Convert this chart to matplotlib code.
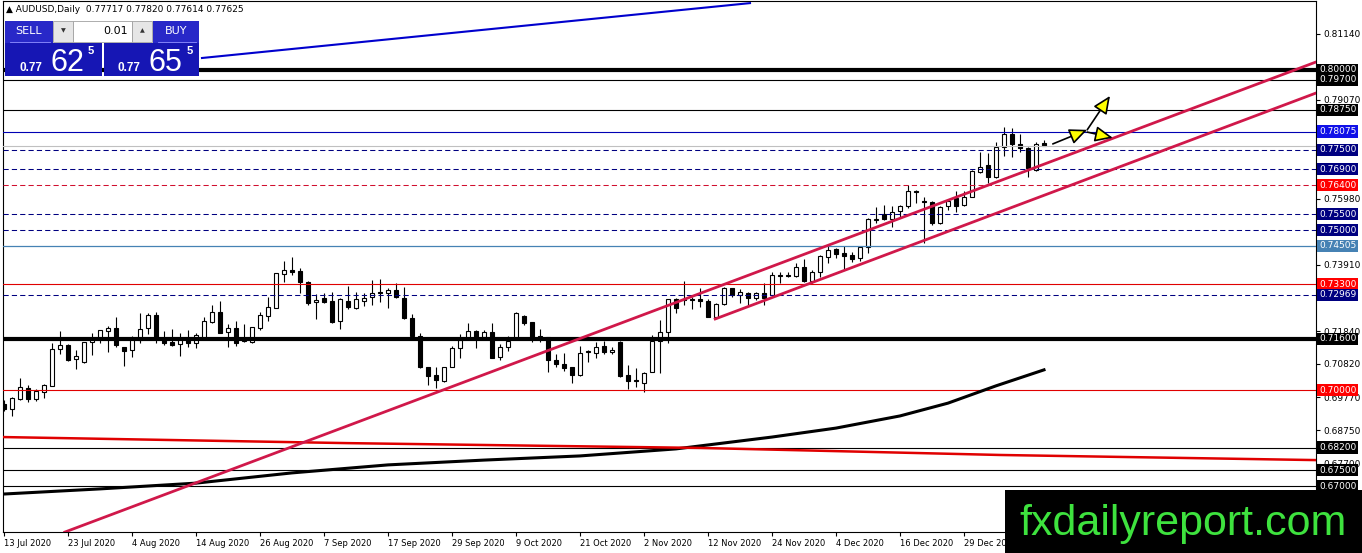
import numpy as np
import matplotlib.pyplot as plt
from matplotlib.patches import Rectangle
import matplotlib.transforms as mtransforms

# daily candles, 13 Jul 2020 .. 13 Jan 2021
opens = [0.6956, 0.6941, 0.6972, 0.7006, 0.6972, 0.6994, 0.7013, 0.7128, 0.7141, 0.7097,
         0.7088, 0.7150, 0.7163, 0.7184, 0.7194, 0.7134, 0.7125, 0.7156, 0.7194, 0.7234,
         0.7156, 0.7150, 0.7144, 0.7156, 0.7147, 0.7163, 0.7213, 0.7244, 0.7181, 0.7194,
         0.7153, 0.7150, 0.7194, 0.7231, 0.7256, 0.7363, 0.7375, 0.7372, 0.7338, 0.7275,
         0.7288, 0.7278, 0.7216, 0.7278, 0.7256, 0.7278, 0.7291, 0.7306, 0.7303, 0.7313,
         0.7288, 0.7225, 0.7169, 0.7072, 0.7047, 0.7028, 0.7072, 0.7131, 0.7163, 0.7184,
         0.7166, 0.7181, 0.7103, 0.7134, 0.7163, 0.7231, 0.7213, 0.7169, 0.7166, 0.7094,
         0.7081, 0.7072, 0.7047, 0.7119, 0.7116, 0.7138, 0.7119, 0.7150, 0.7047, 0.7031,
         0.7022, 0.7056, 0.7153, 0.7181, 0.7284, 0.7284, 0.7284, 0.7284, 0.7278, 0.7228,
         0.7269, 0.7319, 0.7297, 0.7303, 0.7288, 0.7303, 0.7297, 0.7359, 0.7359, 0.7356,
         0.7384, 0.7341, 0.7369, 0.7416, 0.7441, 0.7428, 0.7422, 0.7413, 0.7447, 0.7531,
         0.7550, 0.7534, 0.7559, 0.7575, 0.7622, 0.7591, 0.7588, 0.7522, 0.7575, 0.7600,
         0.7578, 0.7603, 0.7681, 0.7703, 0.7666, 0.7759, 0.7800, 0.7769, 0.7756, 0.7688,
         0.77717]
highs = [0.6969, 0.6978, 0.7038, 0.7016, 0.7003, 0.7019, 0.7147, 0.7184, 0.7144, 0.7125,
         0.7150, 0.7178, 0.7188, 0.7200, 0.7228, 0.7134, 0.7169, 0.7241, 0.7241, 0.7244,
         0.7184, 0.7191, 0.7178, 0.7188, 0.7178, 0.7228, 0.7266, 0.7278, 0.7206, 0.7216,
         0.7206, 0.7197, 0.7244, 0.7291, 0.7366, 0.7403, 0.7416, 0.7381, 0.7341, 0.7300,
         0.7303, 0.7306, 0.7288, 0.7325, 0.7306, 0.7303, 0.7344, 0.7347, 0.7319, 0.7334,
         0.7322, 0.7238, 0.7178, 0.7072, 0.7072, 0.7072, 0.7138, 0.7175, 0.7209, 0.7188,
         0.7188, 0.7209, 0.7144, 0.7169, 0.7244, 0.7234, 0.7213, 0.7191, 0.7166, 0.7113,
         0.7116, 0.7072, 0.7138, 0.7125, 0.7150, 0.7153, 0.7134, 0.7153, 0.7078, 0.7069,
         0.7056, 0.7172, 0.7219, 0.7284, 0.7288, 0.7341, 0.7291, 0.7319, 0.7284, 0.7272,
         0.7322, 0.7319, 0.7316, 0.7306, 0.7306, 0.7334, 0.7369, 0.7369, 0.7369, 0.7397,
         0.7409, 0.7375, 0.7422, 0.7450, 0.7444, 0.7450, 0.7431, 0.7450, 0.7538, 0.7572,
         0.7578, 0.7575, 0.7578, 0.7641, 0.7625, 0.7603, 0.7591, 0.7575, 0.7594, 0.7622,
         0.7622, 0.7688, 0.7744, 0.7741, 0.7775, 0.7822, 0.7819, 0.7800, 0.7759, 0.7775,
         0.77820]
lows = [0.6934, 0.6919, 0.6969, 0.6963, 0.6966, 0.6975, 0.7013, 0.7113, 0.7091, 0.7066,
        0.7084, 0.7109, 0.7147, 0.7119, 0.7134, 0.7075, 0.7103, 0.7147, 0.7175, 0.7147,
        0.7141, 0.7138, 0.7106, 0.7134, 0.7131, 0.7159, 0.7209, 0.7178, 0.7134, 0.7138,
        0.7150, 0.7147, 0.7188, 0.7216, 0.7256, 0.7338, 0.7359, 0.7303, 0.7266, 0.7222,
        0.7272, 0.7209, 0.7191, 0.7253, 0.7253, 0.7263, 0.7266, 0.7275, 0.7256, 0.7288,
        0.7222, 0.7169, 0.7069, 0.7016, 0.7006, 0.7025, 0.7072, 0.7100, 0.7163, 0.7131,
        0.7163, 0.7100, 0.7094, 0.7122, 0.7163, 0.7203, 0.7150, 0.7150, 0.7056, 0.7072,
        0.7059, 0.7022, 0.7044, 0.7088, 0.7100, 0.7113, 0.7113, 0.7041, 0.7003, 0.7009,
        0.6994, 0.7056, 0.7053, 0.7147, 0.7241, 0.7266, 0.7253, 0.7259, 0.7228, 0.7228,
        0.7266, 0.7291, 0.7272, 0.7263, 0.7281, 0.7266, 0.7294, 0.7334, 0.7353, 0.7353,
        0.7338, 0.7334, 0.7353, 0.7397, 0.7413, 0.7375, 0.7400, 0.7403, 0.7428, 0.7522,
        0.7531, 0.7509, 0.7541, 0.7569, 0.7584, 0.7459, 0.7516, 0.7519, 0.7563, 0.7556,
        0.7575, 0.7603, 0.7678, 0.7647, 0.7663, 0.7731, 0.7728, 0.7744, 0.7666, 0.7684,
        0.77614]
closes = [0.6941, 0.6975, 0.7009, 0.6972, 0.6997, 0.7016, 0.7128, 0.7141, 0.7094, 0.7106,
          0.7150, 0.7163, 0.7188, 0.7194, 0.7141, 0.7122, 0.7159, 0.7191, 0.7234, 0.7166,
          0.7147, 0.7141, 0.7163, 0.7147, 0.7172, 0.7216, 0.7244, 0.7178, 0.7194, 0.7147,
          0.7156, 0.7197, 0.7234, 0.7259, 0.7366, 0.7375, 0.7369, 0.7338, 0.7272, 0.7281,
          0.7275, 0.7213, 0.7284, 0.7259, 0.7284, 0.7288, 0.7303, 0.7303, 0.7313, 0.7291,
          0.7225, 0.7169, 0.7072, 0.7044, 0.7031, 0.7072, 0.7131, 0.7156, 0.7184, 0.7163,
          0.7181, 0.7100, 0.7134, 0.7153, 0.7241, 0.7209, 0.7163, 0.7166, 0.7094, 0.7081,
          0.7069, 0.7047, 0.7116, 0.7122, 0.7134, 0.7119, 0.7125, 0.7044, 0.7028, 0.7028,
          0.7053, 0.7153, 0.7181, 0.7284, 0.7256, 0.7281, 0.7281, 0.7278, 0.7228, 0.7269,
          0.7319, 0.7297, 0.7306, 0.7288, 0.7303, 0.7288, 0.7359, 0.7356, 0.7356, 0.7384,
          0.7341, 0.7369, 0.7419, 0.7438, 0.7425, 0.7419, 0.7409, 0.7447, 0.7534, 0.7533,
          0.7534, 0.7556, 0.7575, 0.7622, 0.7620, 0.7588, 0.7522, 0.7572, 0.7591, 0.7575,
          0.7603, 0.7684, 0.7697, 0.7666, 0.7759, 0.7800, 0.7769, 0.7756, 0.7694, 0.7769,
          0.77625]

date_pos = [0, 8, 16, 24, 32, 40, 48, 56, 64, 72, 80, 88, 96, 104, 112, 120]
date_labels = ['13 Jul 2020', '23 Jul 2020', '4 Aug 2020', '14 Aug 2020', '26 Aug 2020',
               '7 Sep 2020', '17 Sep 2020', '29 Sep 2020', '9 Oct 2020', '21 Oct 2020',
               '2 Nov 2020', '12 Nov 2020', '24 Nov 2020', '4 Dec 2020', '16 Dec 2020',
               '29 Dec 2020']

# scale values left visible by the level boxes
price_ticks = [0.81140, 0.79070, 0.75980, 0.73910, 0.71840, 0.70820, 0.69770,
               0.68750, 0.67700]

# horizontal levels drawn on the chart
levels = [0.80000, 0.79700, 0.78750, 0.78075, 0.77500, 0.76900, 0.76400, 0.75500,
          0.75000, 0.74505, 0.73300, 0.72969, 0.71600, 0.70000, 0.68200, 0.67500, 0.67000]
level_kind = ['thick', 'thin', 'thin', 'blue', 'dash', 'dash', 'reddash', 'dash',
              'dash', 'steel', 'red', 'dash', 'thick', 'red', 'thin', 'thin', 'thin']
bid = 0.77625

# moving average (black) read at a few bars
ma_bar = [0, 12, 24, 36, 48, 60, 72, 84, 96, 104, 112, 118, 124, 130]
ma_val = [0.6675, 0.6691, 0.6709, 0.6741, 0.6766, 0.6781, 0.6794, 0.6816, 0.6853,
          0.6881, 0.6919, 0.6959, 0.7013, 0.7063]
# slow red line
red_bar = [-0.2, 43, 87, 124.5, 164]
red_val = [0.6853, 0.6834, 0.6819, 0.6797, 0.6781]

# trend / channel lines (bar, price)
chan_up = [(7.6, 0.6556), (164, 0.8025)]
chan_lo = [(88.9, 0.7222), (164, 0.7928)]
blue_tl = [(24.75, 0.80375), (93.25, 0.8209)]
arrows = [((131.1, 0.7769), (135.4, 0.7813)),
          ((135.4, 0.7813), (138.25, 0.7919)),
          ((135.4, 0.7806), (138.6, 0.7788))]

kind_style = {
    'thick': ('black', 3.0, '-'),
    'thin': ('black', 0.8, '-'),
    'blue': ('#0000b4', 0.8, '-'),
    'dash': ('#000080', 0.75, (0, (5, 3))),
    'reddash': ('#d01030', 0.75, (0, (5, 3))),
    'steel': ('#4682b4', 0.9, '-'),
    'red': ('#e00000', 0.8, '-'),
}
kind_box = {'thick': 'black', 'thin': 'black', 'blue': '#1010e8', 'dash': '#000080',
            'reddash': '#ff0000', 'steel': '#4682b4', 'red': '#ff0000'}

W, H = 1362, 553
fig = plt.figure(figsize=(W / 100, H / 100), dpi=100)
ax = fig.add_axes([3 / W, (H - 532) / H, (1316 - 3) / W, (532 - 1) / H])
ax.set_xlim(-0.125, 164)
ax.set_ylim(0.65563, 0.82156)

o = np.array(opens); h = np.array(highs); l = np.array(lows); c = np.array(closes)
x = np.arange(len(o))
ax.vlines(x, l, h, color='black', lw=0.8, zorder=2)
up = c >= o
body = np.maximum(np.abs(c - o), 0.00015)
ax.bar(x, body, bottom=np.minimum(o, c), width=0.58,
       color=np.where(up, 'white', 'black'), edgecolor='black', linewidth=0.8, zorder=2.5)

for lv, k in zip(levels, level_kind):
    col, lw, ls = kind_style[k]
    ax.axhline(lv, color=col, lw=lw, ls=ls, zorder=3)
ax.axhline(bid, color='#c0c0c0', lw=0.8, zorder=2.8)

ax.plot(ma_bar, ma_val, color='black', lw=2.2, zorder=3.5)
ax.plot(red_bar, red_val, color='#e00000', lw=1.8, zorder=3.5)
for seg, col, lw in [(chan_up, '#d0184a', 2.0), (chan_lo, '#d0184a', 2.0), (blue_tl, '#0000cd', 1.5)]:
    ax.plot([p[0] for p in seg], [p[1] for p in seg], color=col, lw=lw, zorder=4)
for s, e in arrows:
    ax.annotate('', xy=e, xytext=s, zorder=5,
                arrowprops=dict(arrowstyle='-|>,head_length=0.9,head_width=0.4',
                                fc='#ffff00', ec='black', lw=1.2, mutation_scale=12,
                                shrinkA=0, shrinkB=0))

for sp in ax.spines.values():
    sp.set_color('black')
    sp.set_linewidth(0.8)

ax.yaxis.tick_right()
ax.set_yticks(price_ticks)
ax.set_yticklabels(['%.5f' % v for v in price_ticks])
ax.tick_params(axis='y', length=3, pad=2, labelsize=6.5, colors='black')
ax.set_xticks(date_pos)
ax.set_xticklabels(date_labels)
ax.tick_params(axis='x', length=3, pad=2, labelsize=6, colors='black')
plt.setp(ax.get_xticklabels(), ha='left')

trans = mtransforms.blended_transform_factory(ax.transAxes, ax.transData)
for lv, k in zip(levels, level_kind):
    ax.text(1.0 + 3 / 1313, lv, '%.5f' % lv, transform=trans, ha='left', va='center',
            fontsize=6.5, color='white', clip_on=False, zorder=10,
            bbox=dict(boxstyle='square,pad=0.18', fc=kind_box[k], ec='none'))

# overlay in pixel coordinates: trade panel and watermark
ov = fig.add_axes([0, 0, 1, 1], zorder=5)
ov.set_xlim(0, W)
ov.set_ylim(H, 0)
ov.axis('off')

sans = ['Liberation Sans', 'DejaVu Sans']
ov.text(6, 9, '\u25b2 AUDUSD,Daily  0.77717 0.77820 0.77614 0.77625', fontsize=6.5,
        va='center', ha='left', color='black')
ov.add_patch(Rectangle((5, 21), 48, 22, fc='#2828c8', ec='none'))
ov.add_patch(Rectangle((153, 21), 46, 22, fc='#2828c8', ec='none'))
ov.add_patch(Rectangle((53, 21), 20, 21, fc='#e6e6e6', ec='#a0a0a0', lw=0.6))
ov.add_patch(Rectangle((73, 21), 59, 21, fc='white', ec='#a0a0a0', lw=0.6))
ov.add_patch(Rectangle((132, 21), 20, 21, fc='#e6e6e6', ec='#a0a0a0', lw=0.6))
ov.text(29, 31, 'SELL', color='white', fontsize=8, ha='center', va='center')
ov.text(176, 31, 'BUY', color='white', fontsize=8, ha='center', va='center')
ov.text(63, 31, '\u25bc', color='#333333', fontsize=4.5, ha='center', va='center')
ov.text(142, 31, '\u25b2', color='#333333', fontsize=4.5, ha='center', va='center')
ov.text(128, 31, '0.01', color='black', fontsize=8, ha='right', va='center')
ov.plot([10, 50], [41.5, 41.5], color='#9090ff', lw=0.6)
ov.plot([158, 196], [41.5, 41.5], color='#9090ff', lw=0.6)
ov.add_patch(Rectangle((5, 43), 97, 33, fc='#1616b4', ec='none'))
ov.add_patch(Rectangle((104, 43), 95, 33, fc='#1616b4', ec='none'))
for x0, big in [(5, '62'), (104, '65')]:
    ov.text(x0 + 14, 71, '0.77', color='white', fontsize=8.5, fontweight='bold',
            ha='left', va='baseline', family=sans)
    ov.text(x0 + 45, 71, big, color='white', fontsize=22, ha='left', va='baseline',
            family=sans)
    ov.text(x0 + 83, 51, '5', color='white', fontsize=8, fontweight='bold',
            ha='left', va='center', family=sans)

ov.add_patch(Rectangle((1005, 490), 357, 63, fc='black', ec='none'))
ov.text(1183, 524, 'fxdailyreport.com', color='#3ee23e', fontsize=31, ha='center',
        va='center', family=sans)

fig.savefig('out.png', dpi=100)
